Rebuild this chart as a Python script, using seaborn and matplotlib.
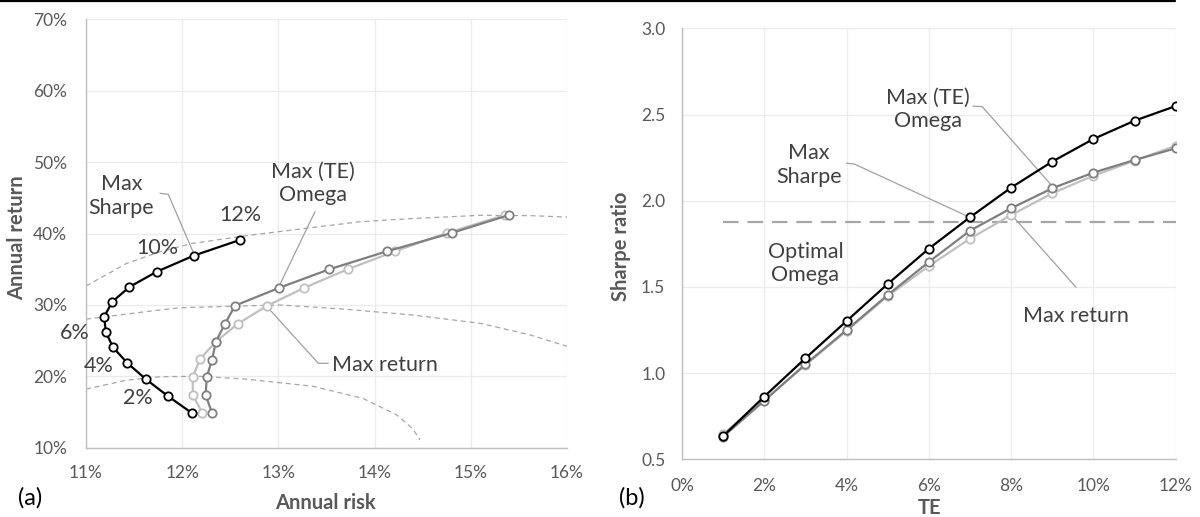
import numpy as np
import pandas as pd
import matplotlib
matplotlib.use("Agg")
import matplotlib.pyplot as plt
import seaborn as sns
from matplotlib.ticker import FuncFormatter, MultipleLocator
from matplotlib.lines import Line2D

# ---------------- data ----------------
te_levels = [1, 2, 3, 4, 5, 6, 7, 8, 9, 10, 11, 12]  # TE, %

# Panel (a): annual risk / annual return (%) along each TE path
risk_max_sharpe = [12.10, 11.85, 11.62, 11.43, 11.28, 11.205, 11.19, 11.27, 11.45, 11.735, 12.12, 12.60]
ret_max_sharpe = [14.86, 17.24, 19.62, 21.86, 24.06, 26.25, 28.35, 30.4, 32.5, 34.65, 36.9, 39.1]
risk_max_omega = [12.31, 12.244, 12.255, 12.31, 12.35, 12.445, 12.55, 13.01, 13.53, 14.126, 14.80, 15.40]
ret_max_omega = [14.86, 17.38, 19.9, 22.3, 24.85, 27.37, 29.9, 32.4, 34.99, 37.5, 40.07, 42.6]
risk_max_return = [12.21, 12.11, 12.11, 12.185, 12.35, 12.58, 12.885, 13.27, 13.72, 14.21, 14.75, 15.36]
ret_max_return = [14.86, 17.38, 19.9, 22.42, 24.85, 27.37, 29.9, 32.4, 34.99, 37.5, 40.07, 42.6]

# dashed reference curves in panel (a)
curve1_x = [11.0, 11.42, 11.77, 12.10, 12.67, 13.21, 13.85, 14.40, 15.10, 15.62, 16.0]
curve1_y = [32.65, 35.8, 37.45, 38.6, 39.7, 40.6, 41.65, 42.1, 42.55, 42.5, 42.3]
curve2_x = [11.0, 11.71, 11.977, 13.017, 13.71, 14.40, 15.10, 15.62, 16.0]
curve2_y = [28.0, 29.2, 29.6, 29.99, 29.38, 28.58, 27.42, 25.78, 24.2]
curve3_x = [11.0, 11.42, 11.77, 12.185, 12.67, 13.36, 13.88, 14.23, 14.40, 14.47]
curve3_y = [18.2, 19.45, 19.94, 20.0, 19.6, 18.6, 16.9, 14.6, 12.6, 11.1]

# Panel (b): Sharpe ratio vs TE
sharpe_max_sharpe = [0.635, 0.864, 1.086, 1.302, 1.517, 1.722, 1.904, 2.076, 2.227, 2.358, 2.464, 2.549]
sharpe_max_omega = [0.631, 0.840, 1.051, 1.250, 1.453, 1.645, 1.826, 1.956, 2.072, 2.163, 2.236, 2.304]
sharpe_max_return = [0.647, 0.844, 1.047, 1.244, 1.447, 1.621, 1.780, 1.917, 2.043, 2.145, 2.232, 2.319]
optimal_omega_sharpe = 1.879

te_point_labels = {12: "12%", 10: "10%", 6: "6%", 4: "4%", 2: "2%"}

# ---------------- style ----------------
sns.set_style("white")
plt.rcParams["font.family"] = ["Lato", "DejaVu Sans"]

C_BLACK = "#000000"
C_MID = "#7f7f7f"
C_LIGHT = "#c0c0c0"
C_TEXT = "#404040"
C_TICK = "#595959"
C_GRID = "#ececec"
C_SPINE = "#bfbfbf"
C_LEADER = "#a0a0a0"

W, H = 1200, 517
fig = plt.figure(figsize=(W / 100, H / 100), dpi=100)

axA = fig.add_axes([86 / W, 1 - 447.7 / H, (567 - 86) / W, (447.7 - 19.3) / H])
axB = fig.add_axes([682 / W, 1 - 459.3 / H, (1175.7 - 682) / W, (459.3 - 28.3) / H])

# page top rule
fig.add_artist(Line2D([0, 1175 / W], [1 - 0.8 / H, 1 - 0.8 / H], color="black", lw=1.6,
                      transform=fig.transFigure))

TICK_FS = 12.5
LAB_FS = 14.5
ANN_FS = 15.5

def style_axes(ax):
    ax.grid(True, color=C_GRID, lw=1.0)
    ax.set_axisbelow(True)
    for s in ["top", "right"]:
        ax.spines[s].set_visible(False)
    for s in ["left", "bottom"]:
        ax.spines[s].set_color(C_SPINE)
        ax.spines[s].set_linewidth(1.0)
    ax.tick_params(length=0, labelsize=TICK_FS, labelcolor=C_TICK)

line_kw = dict(marker="o", markersize=6, markerfacecolor="white", markeredgewidth=1.3,
               lw=1.6, sort=False, estimator=None, legend=False)

# ---------------- panel (a) ----------------
dashed_kw = dict(color="#a6a6a6", lw=0.9, dashes=(4, 3))
for cx, cy in [(curve1_x, curve1_y), (curve2_x, curve2_y), (curve3_x, curve3_y)]:
    axA.plot(cx, cy, **dashed_kw, zorder=1)

dfA = pd.DataFrame({"te": te_levels * 3,
                    "risk": risk_max_return + risk_max_omega + risk_max_sharpe,
                    "ret": ret_max_return + ret_max_omega + ret_max_sharpe,
                    "series": ["Max return"] * 12 + ["Max (TE) Omega"] * 12 + ["Max Sharpe"] * 12})
for name, col in [("Max return", C_LIGHT), ("Max (TE) Omega", C_MID), ("Max Sharpe", C_BLACK)]:
    sub = dfA[dfA.series == name]
    sns.lineplot(data=sub, x="risk", y="ret", color=col, markeredgecolor=col, ax=axA, zorder=3, **line_kw)

axA.set_xlim(11, 16)
axA.set_ylim(10, 70)
axA.xaxis.set_major_locator(MultipleLocator(1))
axA.yaxis.set_major_locator(MultipleLocator(10))
axA.xaxis.set_major_formatter(FuncFormatter(lambda v, p: f"{v:.0f}%"))
axA.yaxis.set_major_formatter(FuncFormatter(lambda v, p: f"{v:.0f}%"))
style_axes(axA)
axA.tick_params(axis="y", pad=13.5)
axA.tick_params(axis="x", pad=12.5)
axA.set_xlabel("Annual risk", fontsize=LAB_FS, fontweight="bold", color=C_TICK)
axA.set_ylabel("Annual return", fontsize=LAB_FS, fontweight="bold", color=C_TICK)
axA.xaxis.set_label_coords(0.498, -0.13)
axA.xaxis.label.set_va("center")
axA.yaxis.set_label_coords(-0.1435, 0.49)
axA.yaxis.label.set_va("center")

# TE labels next to Max Sharpe points
te_label_pos = {12: (12.60, 42.59), 10: (11.741, 37.93), 6: (10.886, 26.02), 4: (11.128, 21.44), 2: (11.544, 16.92)}
for k, txt in te_point_labels.items():
    x, y = te_label_pos[k]
    axA.text(x, y, txt, fontsize=ANN_FS, color=C_TEXT, ha="center", va="center", clip_on=False)

axA.text(11.368, 45.25, "Max\nSharpe", fontsize=ANN_FS, color=C_TEXT, ha="center", va="center",
         linespacing=1.2)
axA.plot([11.769, 11.855, risk_max_sharpe[10]], [45.63, 45.49, ret_max_sharpe[10] + 0.3],
         color=C_LEADER, lw=0.9, zorder=2)
axA.text(13.363, 47.03, "Max (TE)\nOmega", fontsize=ANN_FS, color=C_TEXT, ha="center", va="center",
         linespacing=1.2)
axA.plot([13.38, risk_max_omega[7]], [43.05, ret_max_omega[7] + 0.3], color=C_LEADER, lw=0.9, zorder=2)
axA.text(14.108, 21.58, "Max return", fontsize=ANN_FS, color=C_TEXT, ha="center", va="center")
axA.plot([13.519, 13.415, risk_max_return[6]], [21.82, 21.82, ret_max_return[6] - 0.2],
         color=C_LEADER, lw=0.9, zorder=2)

fig.text(30 / W, 1 - 498.3 / H, "(a)", fontsize=17, color="black", ha="center", va="center")

# ---------------- panel (b) ----------------
axB.plot([1, 12], [optimal_omega_sharpe, optimal_omega_sharpe], color="#a6a6a6", lw=1.6,
         dashes=(7, 4), zorder=1)

dfB = pd.DataFrame({"te": te_levels * 3,
                    "sharpe": sharpe_max_return + sharpe_max_omega + sharpe_max_sharpe,
                    "series": ["Max return"] * 12 + ["Max (TE) Omega"] * 12 + ["Max Sharpe"] * 12})
for name, col in [("Max return", C_LIGHT), ("Max (TE) Omega", C_MID), ("Max Sharpe", C_BLACK)]:
    sub = dfB[dfB.series == name]
    sns.lineplot(data=sub, x="te", y="sharpe", color=col, markeredgecolor=col, ax=axB, zorder=3, **line_kw)

axB.set_xlim(0, 12)
axB.set_ylim(0.5, 3.0)
axB.xaxis.set_major_locator(MultipleLocator(2))
axB.yaxis.set_major_locator(MultipleLocator(0.5))
axB.xaxis.set_major_formatter(FuncFormatter(lambda v, p: f"{v:.0f}%"))
axB.yaxis.set_major_formatter(FuncFormatter(lambda v, p: f"{v:.1f}"))
style_axes(axB)
axB.tick_params(axis="y", pad=12)
axB.tick_params(axis="x", pad=13.5)
axB.set_xlabel("TE", fontsize=LAB_FS, fontweight="bold", color=C_TICK)
axB.set_ylabel("Sharpe ratio", fontsize=LAB_FS, fontweight="bold", color=C_TICK)
axB.xaxis.set_label_coords(0.5015, -0.1137)
axB.xaxis.label.set_va("center")
axB.yaxis.set_label_coords(-0.1236, 0.4933)
axB.yaxis.label.set_va("center")

axB.text(5.98, 2.531, "Max (TE)\nOmega", fontsize=ANN_FS, color=C_TEXT, ha="center", va="center",
         linespacing=1.2)
axB.plot([7.067, 7.30, te_levels[8] - 0.03], [2.549, 2.545, sharpe_max_omega[8] + 0.02],
         color=C_LEADER, lw=0.9, zorder=2)
axB.text(3.091, 2.207, "Max\nSharpe", fontsize=ANN_FS, color=C_TEXT, ha="center", va="center",
         linespacing=1.2)
axB.plot([4.002, 4.187, te_levels[6] - 0.1], [2.217, 2.213, sharpe_max_sharpe[6] + 0.01],
         color=C_LEADER, lw=0.9, zorder=2)
axB.text(2.999, 1.637, "Optimal\nOmega", fontsize=ANN_FS, color=C_TEXT, ha="center", va="center",
         linespacing=1.2)
axB.text(9.577, 1.33, "Max return", fontsize=ANN_FS, color=C_TEXT, ha="center", va="center")
axB.plot([9.577, te_levels[7] + 0.05], [1.498, sharpe_max_return[7] - 0.01], color=C_LEADER, lw=0.9, zorder=2)

fig.text(631.7 / W, 1 - 498.3 / H, "(b)", fontsize=17, color="black", ha="center", va="center")

fig.savefig("out.png", dpi=100)
